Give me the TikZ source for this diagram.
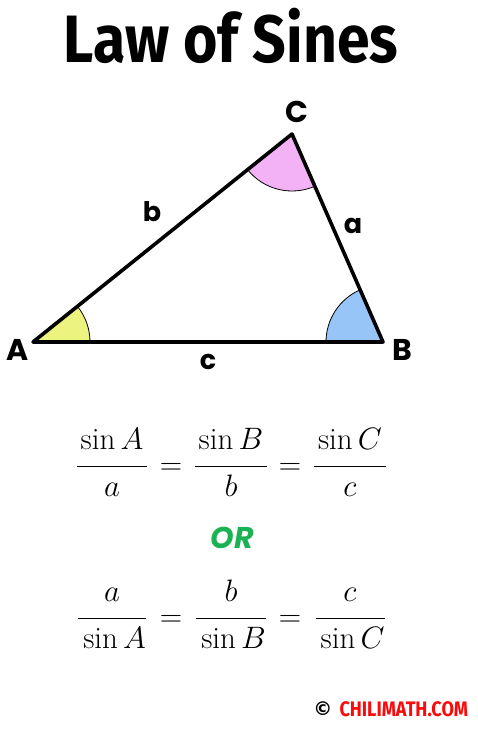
\documentclass[tikz,border=0pt]{standalone}
\usepackage{fix-cm}
\usepackage{amsmath}
\usepackage{fontspec}
\usetikzlibrary{angles}
\usetikzlibrary{positioning}
\newfontfamily\titlefont[FakeStretch=0.88]{Fira Sans}
\newfontfamily\labelfont{Poppins}
\newfontfamily\brandfont[FakeStretch=0.86]{Fira Sans}
\newfontfamily\symfont{DejaVu Sans}
\definecolor{angleA}{RGB}{236,243,126}
\definecolor{angleB}{RGB}{151,197,247}
\definecolor{angleC}{RGB}{244,178,246}
\definecolor{orgreen}{RGB}{26,178,82}
\definecolor{brandred}{RGB}{250,10,10}
\newcommand{\lawfrac}[2]{\dfrac{\hspace{4pt}#1\rule[-13pt]{0pt}{13pt}\hspace{4pt}}{\rule{0pt}{27pt}#2}}
\tikzset{
  x = 1pt,
  y = -1pt,
  side/.style = {line width = 3.6pt, line join = round, line cap = round},
  corner/.style = {draw, line width = 0.8pt, angle radius = 57pt},
  vertex/.style = {font = \labelfont\bfseries\fontsize{30}{30}\selectfont},
  sidename/.style = {font = \labelfont\bfseries\fontsize{27}{27}\selectfont},
  mathnode/.style = {anchor = base, inner sep = 0pt, font = \fontsize{31}{36}\selectfont},
}

\begin{document}
\begin{tikzpicture}
    \useasboundingbox (0,0) rectangle (477,731);
    \node [font = \titlefont\bfseries\fontsize{67}{67}\selectfont] (title) at (231,36) {Law of Sines};
    % triangle
    \coordinate (A) at (33,342);
    \coordinate (B) at (383,342);
    \coordinate (C) at (292,134);
    \pic [corner, fill = angleA] {angle = B--A--C};
    \pic [corner, fill = angleB] {angle = C--B--A};
    \pic [corner, fill = angleC] {angle = A--C--B};
    \draw [side] (A) -- (B) -- (C) -- cycle;
    \node [vertex] (lblA) at (18,350) {A};
    \node [vertex] (lblB) at (402,350) {B};
    \node [vertex] (lblC) at (297,112) {C};
    \node [sidename] (lbla) at (353,226) {a};
    \node [sidename] (lblb) at (152,212) {b};
    \node [sidename] (lblc) at (208,362) {c};
    % first form
    \node [mathnode] (fa) at (112,474) {$\lawfrac{\sin A}{a}$};
    \node [mathnode] (eq1) at (171,474) {$=$};
    \node [mathnode] (fb) at (231,474) {$\lawfrac{\sin B}{b}$};
    \node [mathnode] (eq2) at (290,474) {$=$};
    \node [mathnode] (fc) at (350,474) {$\lawfrac{\sin C}{c}$};
    \node [font = \labelfont\bfseries\itshape\fontsize{30}{30}\selectfont, text = orgreen] (or) at (232,538) {OR};
    % second form
    \node [mathnode] (ga) at (112,626) {$\lawfrac{a}{\sin A}$};
    \node [mathnode] (eq3) at (171,626) {$=$};
    \node [mathnode] (gb) at (231,626) {$\lawfrac{b}{\sin B}$};
    \node [mathnode] (eq4) at (290,626) {$=$};
    \node [mathnode] (gc) at (350,626) {$\lawfrac{c}{\sin C}$};
    \node [font = \brandfont\bfseries\fontsize{21}{21}\selectfont, text = brandred, anchor = west] (brand) at (336,709) {CHILIMATH.COM};
    \node [font = \symfont\bfseries\fontsize{19}{19}\selectfont, left = 0pt of brand] (copy) {©};
\end{tikzpicture}
\end{document}
